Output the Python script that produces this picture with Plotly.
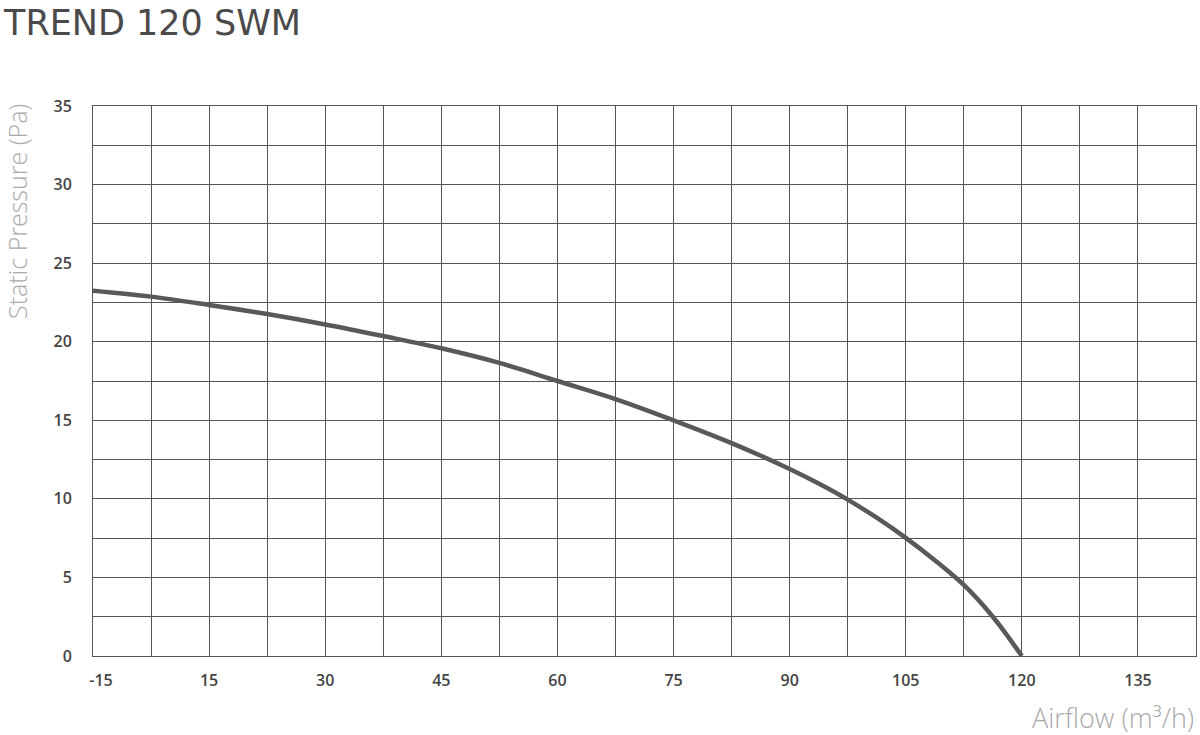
import plotly.graph_objects as go

# Data
airflow = [0, 7.5, 15, 22.5, 30, 37.5, 45, 52.5, 60, 67.5, 75, 82.5, 90, 93.75, 97.5, 101.25, 105, 108.75, 112.5, 116.25, 120]
pressure = [23.25, 22.87, 22.34, 21.76, 21.1, 20.36, 19.58, 18.65, 17.5, 16.35, 15.0, 13.55, 11.9, 10.97, 9.95, 8.8, 7.52, 6.1, 4.52, 2.5, 0.0]

x_tickvals = [0, 15, 30, 45, 60, 75, 90, 105, 120, 135]
x_ticklabels = ["-15", "15", "30", "45", "60", "75", "90", "105", "120", "135"]
y_tickvals = [0, 5, 10, 15, 20, 25, 30, 35]

GRID = "#555555"
TEXT = "#444444"
LIGHT = "#aaaaaa"

# first label sits slightly right of the axis start in the reference
x_ticktext = ["\u2002\u2002" + x_ticklabels[0]] + x_ticklabels[1:]

fig = go.Figure()
fig.add_trace(go.Scatter(
    x=airflow, y=pressure, mode="lines",
    line=dict(color="#595959", width=4.5, shape="spline", smoothing=1.0, simplify=False),
    showlegend=False, hoverinfo="x+y",
))

fig.update_layout(
    width=1200, height=735,
    margin=dict(l=93, r=4, t=106, b=79),
    paper_bgcolor="white", plot_bgcolor="white",
    font=dict(family="Open Sans", color=TEXT),
)

fig.update_xaxes(
    range=[0, 142.5], tickmode="array", tickvals=x_tickvals, ticktext=x_ticktext,
    showgrid=True, gridcolor=GRID, gridwidth=1,
    minor=dict(dtick=7.5, tick0=0, showgrid=True, gridcolor=GRID, gridwidth=1),
    showline=True, linecolor=GRID, linewidth=1, mirror=True,
    zeroline=False, ticks="", ticklabelstandoff=10,
    tickfont=dict(family="Open Sans", size=16, color=TEXT, weight=600),
)
fig.update_yaxes(
    range=[0, 35], tickmode="array", tickvals=y_tickvals,
    showgrid=True, gridcolor=GRID, gridwidth=1,
    minor=dict(dtick=2.5, tick0=0, showgrid=True, gridcolor=GRID, gridwidth=1),
    showline=True, linecolor=GRID, linewidth=1, mirror=True,
    zeroline=False, ticks="", ticklabelstandoff=17,
    tickfont=dict(family="Open Sans", size=16, color=TEXT, weight=600),
)

fig.add_annotation(
    text="TREND 120 SWM", xref="paper", yref="paper",
    x=-93/1103, y=1 + 106/550, xanchor="left", yanchor="top", yshift=-1, xshift=1,
    showarrow=False, font=dict(family="DejaVu Sans", size=35, color="#4a4a4a"),
)
fig.add_annotation(
    text="Static Pressure (Pa)", xref="paper", yref="paper",
    x=-93/1103, y=(656 - 212) / 550, xanchor="left", yanchor="middle", xshift=-2,
    textangle=-90, showarrow=False,
    font=dict(family="Open Sans", size=25, color=LIGHT, weight=300),
)
fig.add_annotation(
    text="Airflow (m³/h)", xref="paper", yref="paper",
    x=1, y=-(717 - 656) / 550, xanchor="right", yanchor="middle",
    showarrow=False,
    font=dict(family="Open Sans", size=27, color=LIGHT, weight=300),
)

fig.write_html(
    "out.html",
    config={"displayModeBar": False},
    post_script="document.body.style.margin='0';document.body.style.overflow='hidden';",
)
